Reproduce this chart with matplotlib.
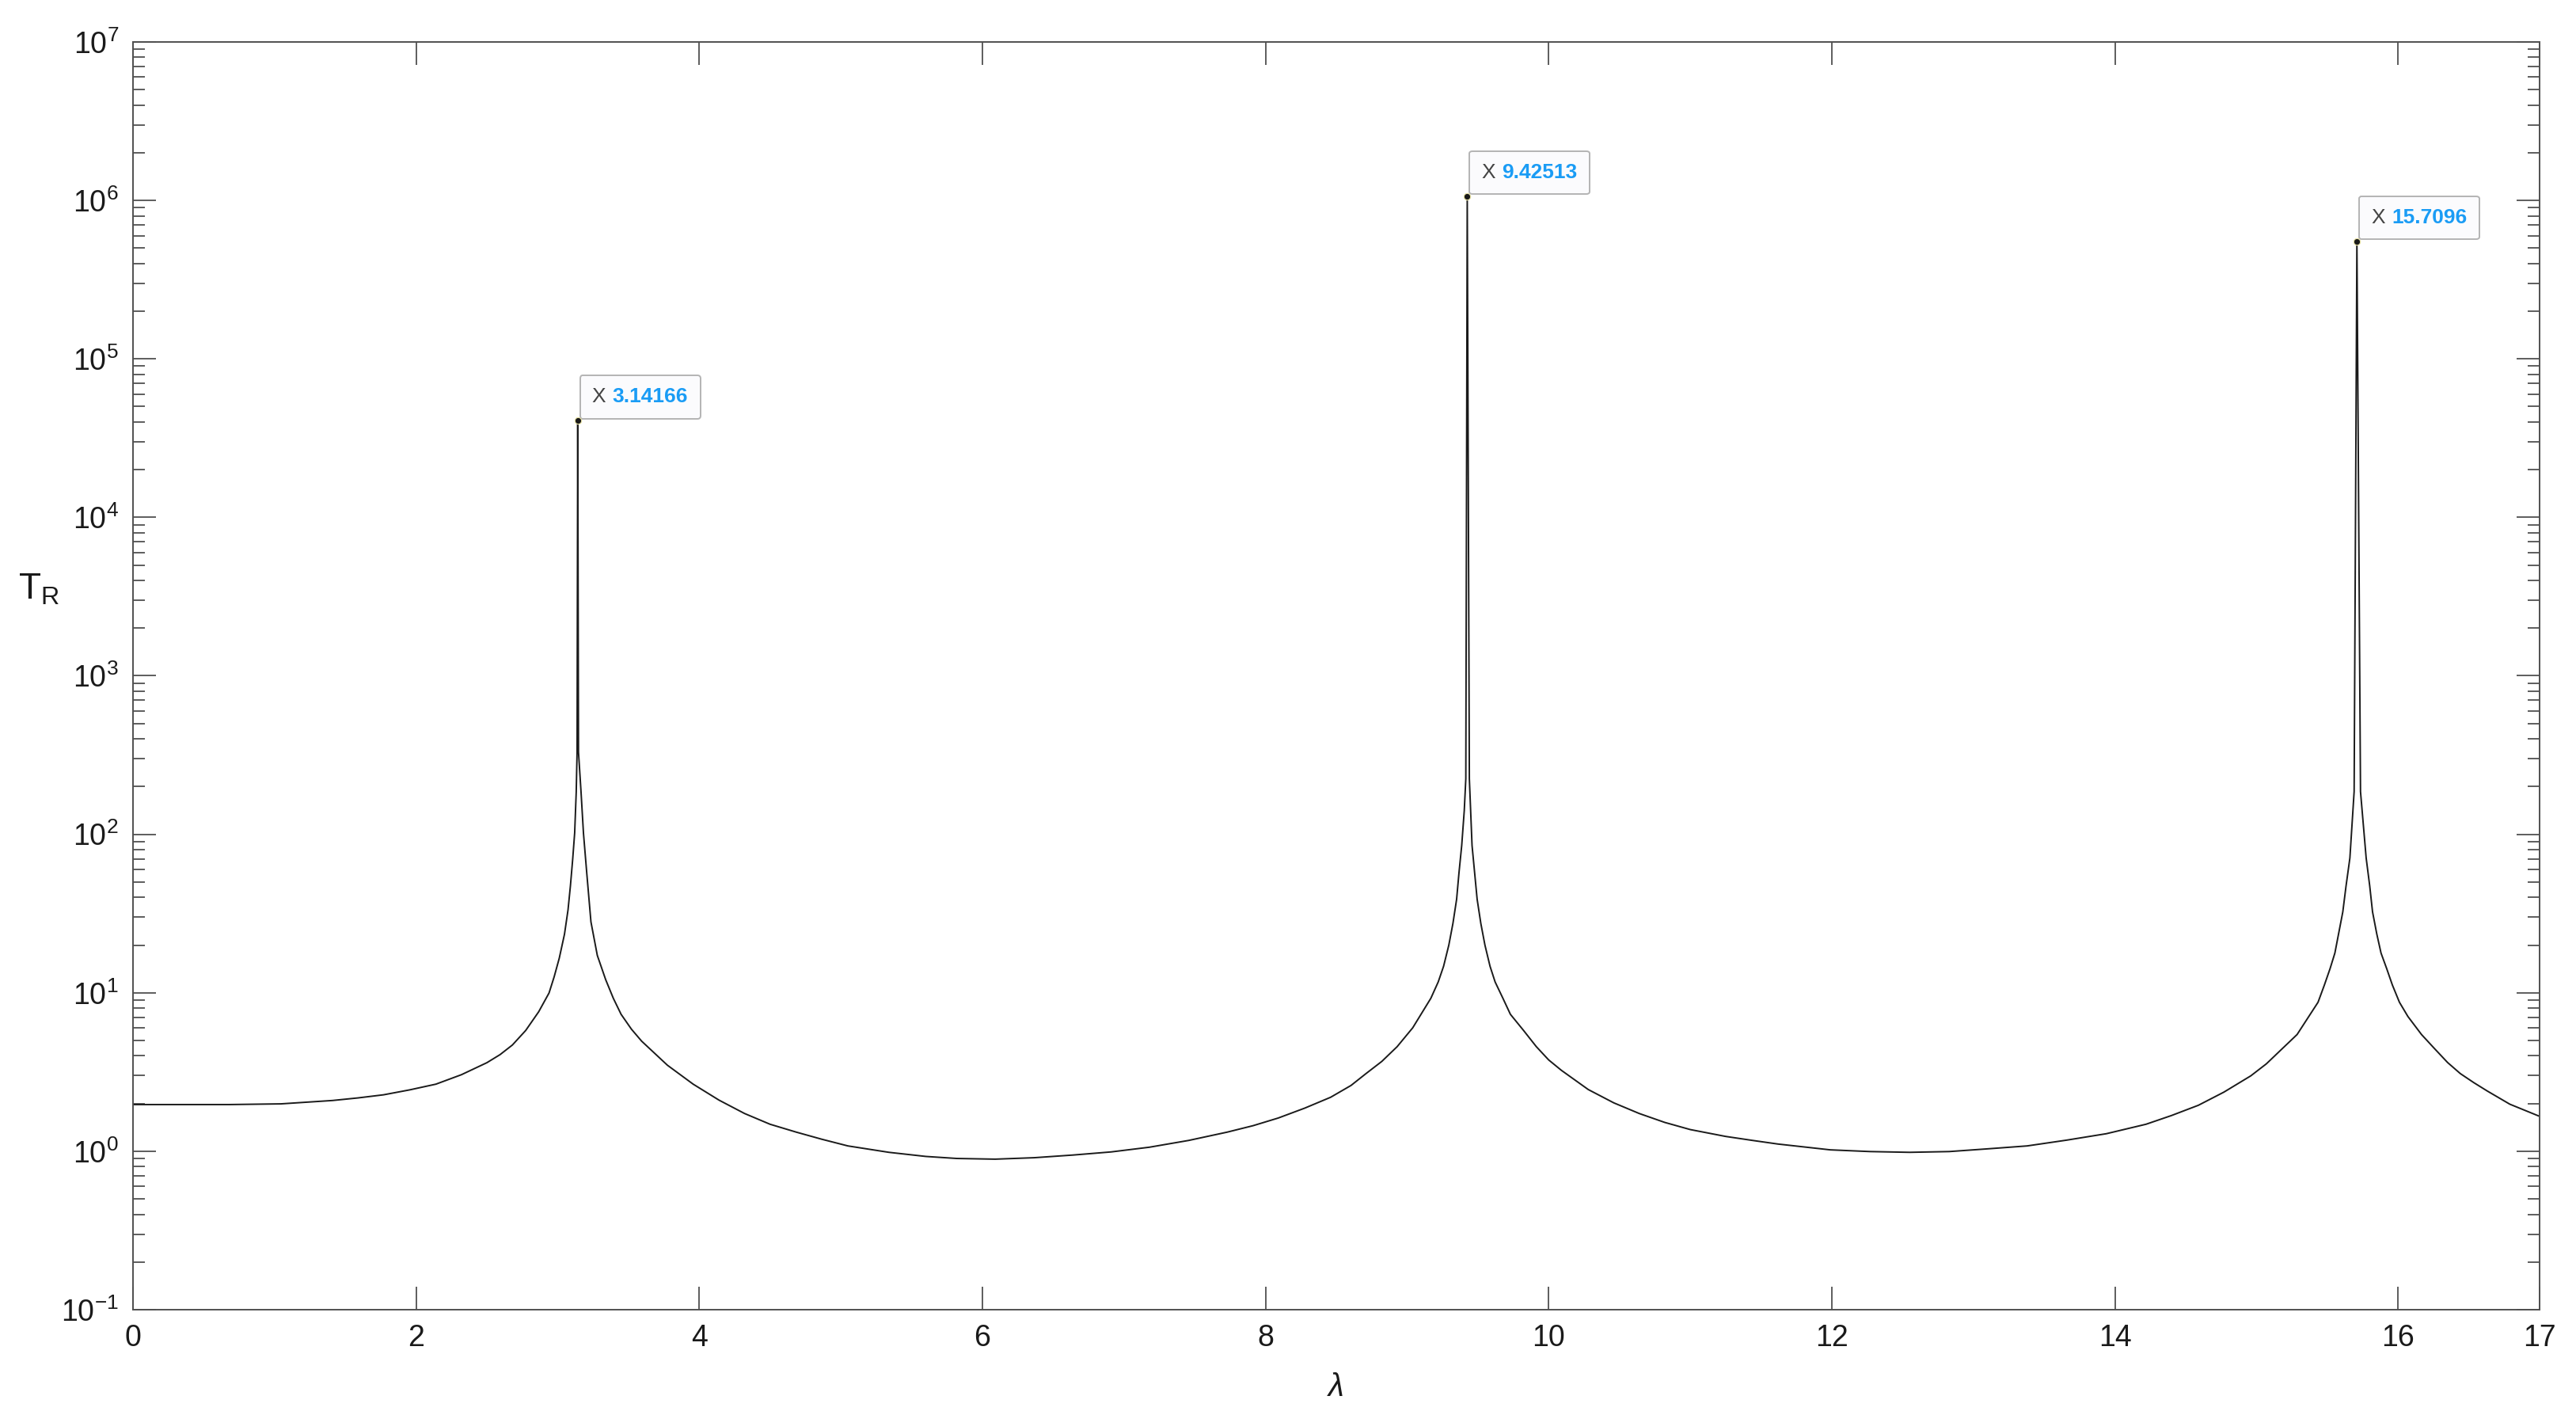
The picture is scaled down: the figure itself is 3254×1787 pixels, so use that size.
import numpy as np
import matplotlib
matplotlib.use("Agg")
import matplotlib.pyplot as plt
from matplotlib.ticker import LogLocator, NullFormatter, FixedLocator
from matplotlib.offsetbox import TextArea, HPacker, AnnotationBbox

plt.rcParams['font.family'] = ['Liberation Sans', 'DejaVu Sans']
plt.rcParams['mathtext.fontset'] = 'custom'
plt.rcParams['mathtext.rm'] = 'Liberation Sans'
plt.rcParams['mathtext.it'] = 'Liberation Sans:italic'

# curve (lambda, T_R)
lam = [0.0, 0.68, 1.045, 1.41, 1.59, 1.77, 1.956, 2.14, 2.32, 2.50, 2.593, 2.68, 2.774,
       2.866, 2.939, 2.975, 3.011, 3.048, 3.073, 3.09, 3.106, 3.12, 3.131, 3.137,
       3.14166,
       3.147, 3.165, 3.182, 3.205, 3.235, 3.28, 3.339, 3.393, 3.448, 3.521, 3.593, 3.775,
       3.957, 4.14, 4.32, 4.50, 4.685, 4.866, 5.05, 5.34, 5.6,
       5.82, 6.09, 6.366, 6.64, 6.91, 7.18, 7.458, 7.73, 7.913, 8.09, 8.277, 8.46, 8.604,
       8.71, 8.822, 8.93, 9.04, 9.11, 9.168, 9.22, 9.258, 9.295, 9.324, 9.35, 9.367,
       9.386, 9.404, 9.415,
       9.42513,
       9.44, 9.459, 9.477, 9.495, 9.521, 9.55, 9.586, 9.622, 9.677, 9.73, 9.823, 9.913,
       10.0, 10.09, 10.28, 10.46, 10.64, 10.82, 11.0, 11.25, 11.44,
       11.62, 11.99, 12.27, 12.55, 12.83, 13.1, 13.38, 13.66, 13.94, 14.22, 14.40, 14.59,
       14.77, 14.96, 15.07, 15.18, 15.287, 15.37, 15.435, 15.48, 15.52, 15.554, 15.58,
       15.61, 15.633, 15.66, 15.69,
       15.7096,
       15.735, 15.775, 15.80, 15.82, 15.85, 15.88, 15.92, 15.96, 16.01, 16.07, 16.166,
       16.26, 16.35, 16.44, 16.535, 16.63, 16.79, 17.0]
tr = [1.97, 1.97, 1.99, 2.09, 2.17, 2.27, 2.44, 2.65, 3.04, 3.62, 4.07, 4.68, 5.78,
      7.59, 9.97, 12.6, 16.5, 23.4, 33.3, 47.3, 69.6, 102, 185, 330,
      40700,
      330, 185, 102, 57.5, 28.0, 17.2, 12.1, 9.23, 7.31, 5.89, 4.95, 3.49,
      2.65, 2.10, 1.73, 1.48, 1.32, 1.19, 1.08, 0.984, 0.927,
      0.90, 0.891, 0.91, 0.946, 0.99, 1.06, 1.17, 1.32, 1.45, 1.62, 1.87, 2.19, 2.60,
      3.09, 3.69, 4.57, 6.01, 7.59, 9.23, 11.7, 14.7, 20.0, 27.4, 38.9, 57.5,
      85, 141, 224,
      1.06e6,
      224, 85, 57.5, 38.9, 27.4, 20.0, 14.7, 11.7, 9.23, 7.31, 5.78, 4.57,
      3.77, 3.24, 2.45, 2.02, 1.73, 1.52, 1.37, 1.24, 1.17,
      1.11, 1.02, 0.995, 0.984, 0.995, 1.035, 1.08, 1.175, 1.29, 1.48, 1.68, 1.95,
      2.36, 2.99, 3.56, 4.42, 5.45, 7.08, 8.71, 11.2, 14.2, 17.8, 23.5,
      32.4, 47.3, 70.8, 186,
      5.5e5,
      186, 70.8, 47.3, 32.4, 23.5, 17.8, 14.2, 11.2, 8.71, 7.08, 5.45,
      4.42, 3.63, 3.09, 2.71, 2.40, 1.98, 1.66]

# data tips
tip_x = [3.14166, 9.42513, 15.7096]
tip_y = [40700, 1.06e6, 5.5e5]
tip_labels = ['3.14166', '9.42513', '15.7096']

x_ticks = [0, 2, 4, 6, 8, 10, 12, 14, 16, 17]

fig = plt.figure(figsize=(32.55, 17.87), dpi=100)
ax = fig.add_axes([0.05161, 0.07443, 0.93395, 0.89591])

ax.plot(lam, tr, color='#1a1a1a', lw=1.4)
ax.set_yscale('log')
ax.set_xlim(0, 17)
ax.set_ylim(1e-1, 1e7)

ax.xaxis.set_major_locator(FixedLocator(x_ticks))
ax.set_xticklabels([str(t) for t in x_ticks])
ax.yaxis.set_major_locator(LogLocator(base=10, numticks=20))
ax.yaxis.set_minor_locator(LogLocator(base=10, subs=np.arange(2, 10), numticks=20))
ax.yaxis.set_minor_formatter(NullFormatter())

ax.tick_params(which='major', direction='in', top=True, right=True, length=21, width=1.3,
               color='#505050', labelsize=27, labelcolor='#1a1a1a', pad=13)
ax.tick_params(which='minor', direction='in', top=False, right=True, length=11, width=1.3,
               color='#505050')
for s in ax.spines.values():
    s.set_color('#505050')
    s.set_linewidth(1.4)

ax.set_xlabel('λ', fontsize=29, style='italic', color='#1a1a1a', labelpad=18)
ax.set_ylabel('$\\mathregular{T_R}$', fontsize=33, color='#1a1a1a', rotation=0,
              ha='center', va='center')
ax.yaxis.set_label_coords(-0.039, 0.568)

for px, py, lab in zip(tip_x, tip_y, tip_labels):
    ax.plot([px], [py], 'o', ms=6, mfc='#1a1a1a', mec='#ece6a8', mew=0.8, zorder=5)
    box = HPacker(children=[
        TextArea('X', textprops=dict(fontsize=19, color='#444444')),
        TextArea(lab, textprops=dict(fontsize=19, color='#1a9cf5', fontweight='bold'))],
        align='baseline', pad=11, sep=6)
    ab = AnnotationBbox(box, (px, py), xybox=(2, 2), xycoords='data',
                        boxcoords='offset points', box_alignment=(0, 0), pad=0,
                        bboxprops=dict(boxstyle='round,pad=0,rounding_size=0.25',
                                       fc='#fbfbfd', ec='#b4b4b4', lw=1.4))
    ax.add_artist(ab)

fig.savefig('out.png', dpi=100, facecolor='white')
